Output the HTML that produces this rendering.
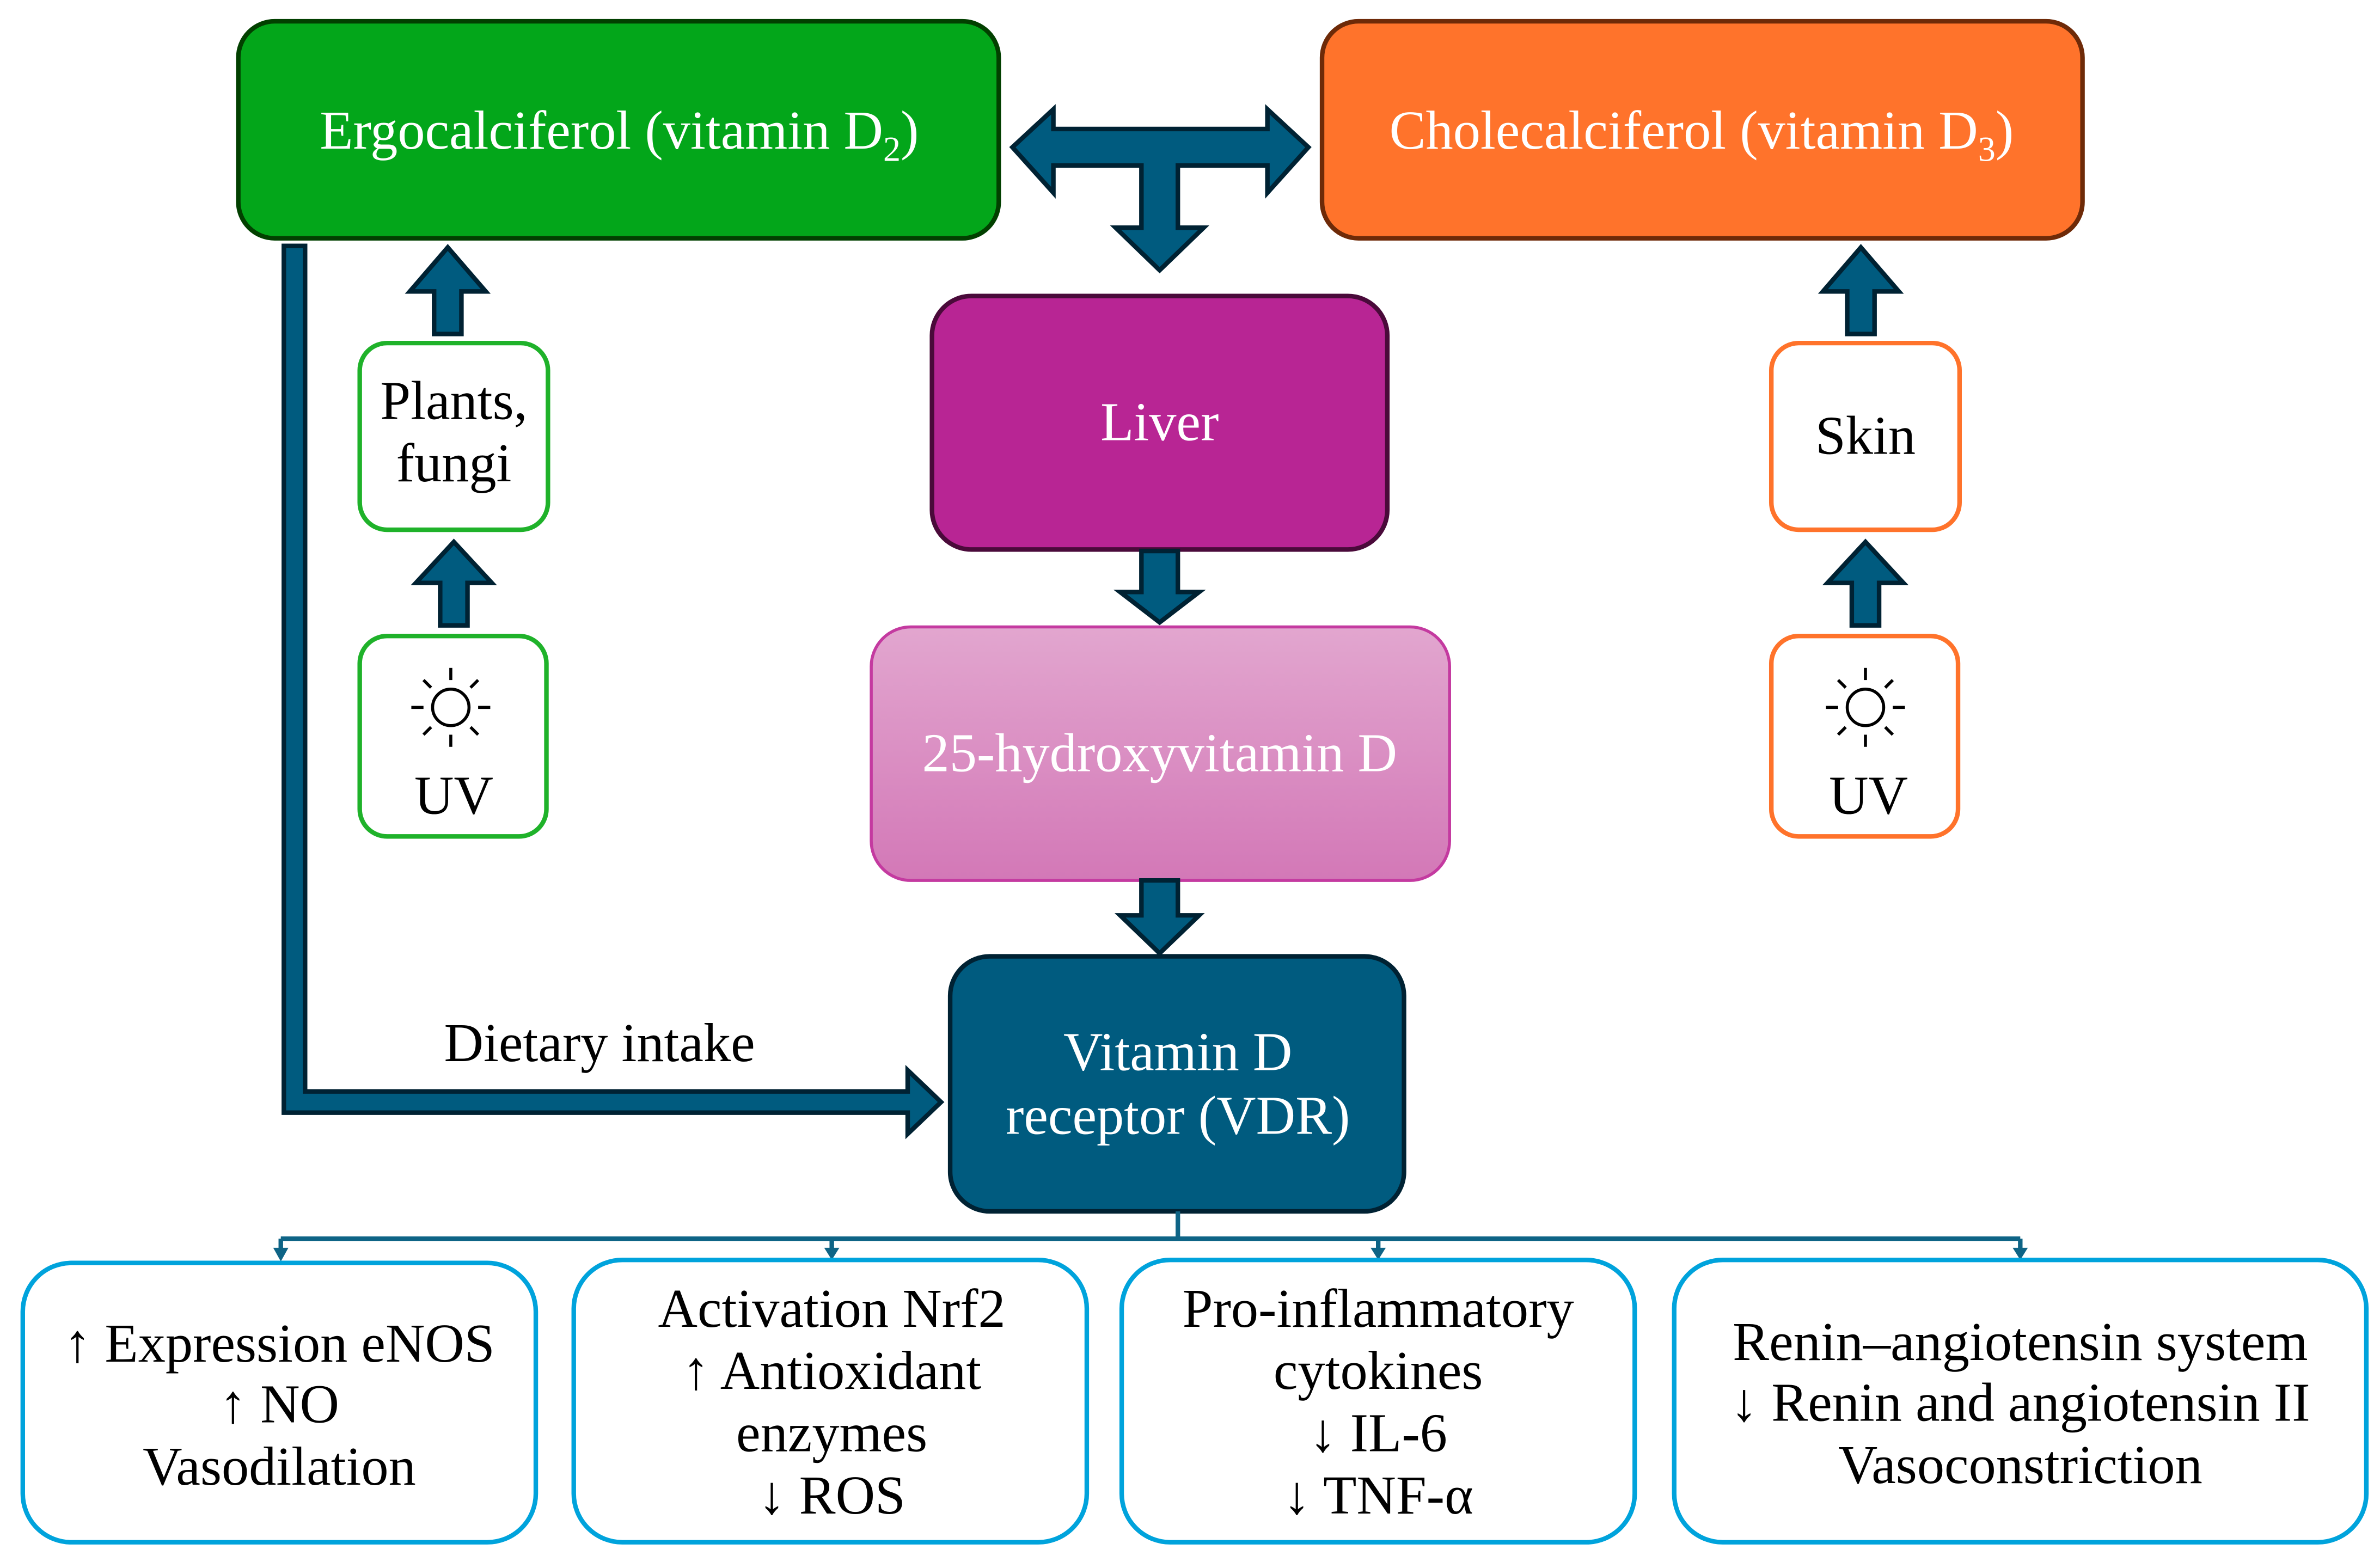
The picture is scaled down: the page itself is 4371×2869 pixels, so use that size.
<!DOCTYPE html>
<html><head><meta charset="utf-8"><style>
html,body{margin:0;padding:0;background:#fff;}
svg{display:block;}
text{font-family:"Liberation Serif",serif;}
</style></head><body>
<svg width="4371" height="2869" viewBox="0 0 1568 1029" preserveAspectRatio="none" xmlns="http://www.w3.org/2000/svg">
<defs>
<linearGradient id="g25" x1="0" y1="0" x2="0" y2="1">
<stop offset="0" stop-color="#E2A6CF"/><stop offset="1" stop-color="#D378B7"/>
</linearGradient>
</defs>
<rect width="1568" height="1029" fill="#fff"/>

<rect x="157" y="14" width="501" height="143" rx="24" fill="#03A61A" stroke="#024000" stroke-width="3"/>
<text x="408" y="98" font-size="36" fill="#fff" text-anchor="middle">Ergocalciferol (vitamin D<tspan font-size="23" dy="8">2</tspan><tspan dy="-8">)</tspan></text>
<rect x="871" y="14" width="501" height="143" rx="24" fill="#FF732B" stroke="#6e2a08" stroke-width="3"/>
<text x="1121" y="98" font-size="36" fill="#fff" text-anchor="middle">Cholecalciferol (vitamin D<tspan font-size="23" dy="8">3</tspan><tspan dy="-8">)</tspan></text>

<polygon points="667,97 694,72 694,85 835,85 835,72 862,97 835,127 835,109 776,109 776,150 793,150 764,178 735,150 752,150 752,109 694,109 694,127" fill="#005B7F" stroke="#002233" stroke-width="3" stroke-linejoin="miter"/>

<rect x="614" y="195" width="300" height="167" rx="26" fill="#B82594" stroke="#4a0a3a" stroke-width="3"/>
<text x="764" y="290" font-size="36" fill="#fff" text-anchor="middle">Liver</text>
<polygon points="752,363 776,363 776,390 790,390 764,410 738,390 752,390" fill="#005B7F" stroke="#002233" stroke-width="3"/>

<rect x="574" y="413" width="381" height="167" rx="26" fill="url(#g25)" stroke="#c43aa0" stroke-width="2"/>
<text x="764" y="508" font-size="36" fill="#fff" text-anchor="middle">25-hydroxyvitamin D</text>
<polygon points="752,580 776,580 776,603 790,603 764,628 738,603 752,603" fill="#005B7F" stroke="#002233" stroke-width="3"/>

<rect x="626" y="630" width="299" height="168" rx="26" fill="#005B7F" stroke="#002233" stroke-width="3"/>
<text x="776" y="705" font-size="36" fill="#fff" text-anchor="middle">Vitamin D</text>
<text x="776" y="747" font-size="36" fill="#fff" text-anchor="middle">receptor (VDR)</text>

<polygon points="187,162 201,162 201,719 598,719 598,705 620,726 598,747 598,733 187,733" fill="#005B7F" stroke="#002233" stroke-width="3"/>
<text x="395" y="699" font-size="36" fill="#000" text-anchor="middle">Dietary intake</text>

<polygon points="295,163 320,192 304,192 304,220 286,220 286,192 270,192" fill="#005B7F" stroke="#002233" stroke-width="3"/>
<rect x="237" y="226" width="124" height="123" rx="18" fill="#fff" stroke="#1FB22A" stroke-width="3"/>
<text x="299" y="276" font-size="36" text-anchor="middle">Plants,</text>
<text x="299" y="317" font-size="36" text-anchor="middle">fungi</text>
<polygon points="299,357 324,384 308,384 308,412 290,412 290,384 274,384" fill="#005B7F" stroke="#002233" stroke-width="3"/>
<rect x="237" y="419" width="123" height="132" rx="18" fill="#fff" stroke="#1FB22A" stroke-width="3"/>
<g stroke="#000" stroke-width="2" fill="none">
<circle cx="297" cy="466" r="12"/>
<line x1="297" y1="440" x2="297" y2="448"/><line x1="297" y1="484" x2="297" y2="492"/>
<line x1="271" y1="466" x2="279" y2="466"/><line x1="315" y1="466" x2="323" y2="466"/>
<line x1="279" y1="448" x2="284" y2="453"/><line x1="310" y1="479" x2="315" y2="484"/>
<line x1="315" y1="448" x2="310" y2="453"/><line x1="284" y1="479" x2="279" y2="484"/>
</g>
<text x="299" y="536" font-size="36" text-anchor="middle">UV</text>

<polygon points="1226,163 1251,192 1235,192 1235,220 1217,220 1217,192 1201,192" fill="#005B7F" stroke="#002233" stroke-width="3"/>
<rect x="1167" y="226" width="124" height="123" rx="18" fill="#fff" stroke="#FF732B" stroke-width="3"/>
<text x="1229" y="299" font-size="36" text-anchor="middle">Skin</text>
<polygon points="1229,357 1254,384 1238,384 1238,412 1220,412 1220,384 1204,384" fill="#005B7F" stroke="#002233" stroke-width="3"/>
<rect x="1167" y="419" width="123" height="132" rx="18" fill="#fff" stroke="#FF732B" stroke-width="3"/>
<g stroke="#000" stroke-width="2" fill="none">
<circle cx="1229" cy="466" r="12"/>
<line x1="1229" y1="440" x2="1229" y2="448"/><line x1="1229" y1="484" x2="1229" y2="492"/>
<line x1="1203" y1="466" x2="1211" y2="466"/><line x1="1247" y1="466" x2="1255" y2="466"/>
<line x1="1211" y1="448" x2="1216" y2="453"/><line x1="1242" y1="479" x2="1247" y2="484"/>
<line x1="1247" y1="448" x2="1242" y2="453"/><line x1="1216" y1="479" x2="1211" y2="484"/>
</g>
<text x="1231" y="536" font-size="36" text-anchor="middle">UV</text>

<g stroke="#0E6486" stroke-width="3" fill="none">
<line x1="776" y1="798" x2="776" y2="816"/>
<line x1="185" y1="816" x2="1331" y2="816"/>
<line x1="185" y1="816" x2="185" y2="824"/>
<line x1="548" y1="816" x2="548" y2="824"/>
<line x1="908" y1="816" x2="908" y2="824"/>
<line x1="1331" y1="816" x2="1331" y2="824"/>
</g>
<g fill="#0E6486">
<polygon points="180,822 190,822 185,831"/>
<polygon points="543,822 553,822 548,830"/>
<polygon points="903,822 913,822 908,830"/>
<polygon points="1326,822 1336,822 1331,830"/>
</g>

<g fill="#fff" stroke="#00A3DC" stroke-width="3">
<rect x="15" y="832" width="338" height="184" rx="32"/>
<rect x="378" y="830" width="338" height="186" rx="32"/>
<rect x="739" y="830" width="338" height="186" rx="32"/>
<rect x="1103" y="830" width="456" height="186" rx="32"/>
</g>
<g font-size="36" text-anchor="middle" fill="#000">
<text x="184" y="897">↑ Expression eNOS</text>
<text x="184" y="937">↑ NO</text>
<text x="184" y="978">Vasodilation</text>
<text x="548" y="874">Activation Nrf2</text>
<text x="548" y="915">↑ Antioxidant</text>
<text x="548" y="956">enzymes</text>
<text x="548" y="997">↓ ROS</text>
<text x="908" y="874">Pro-inflammatory</text>
<text x="908" y="915">cytokines</text>
<text x="908" y="956">↓ IL-6</text>
<text x="908" y="997">↓ TNF-α</text>
<text x="1331" y="896">Renin–angiotensin system</text>
<text x="1331" y="936">↓ Renin and angiotensin II</text>
<text x="1331" y="977">Vasoconstriction</text>
</g>
</svg>
</body></html>
